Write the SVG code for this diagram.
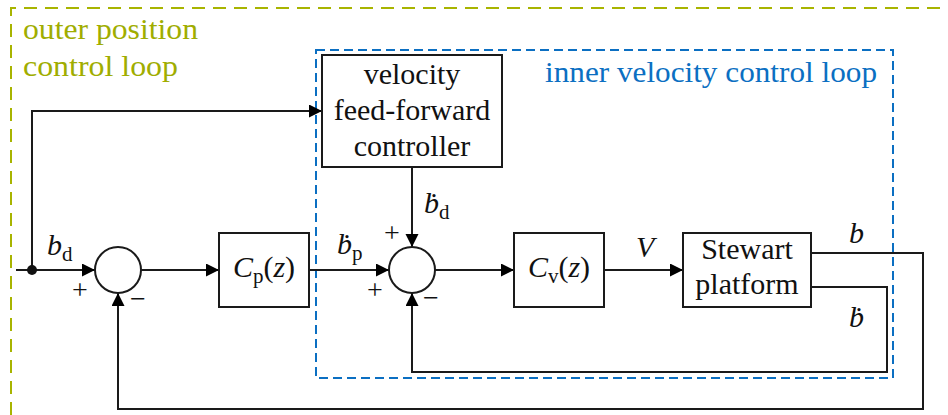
<svg xmlns="http://www.w3.org/2000/svg" width="948" height="415" viewBox="0 0 948 415" font-family="'Liberation Serif', 'DejaVu Serif', 'Times New Roman', serif">
<defs>
<marker id="arr" markerUnits="userSpaceOnUse" markerWidth="14" markerHeight="14" refX="13" refY="6.5" orient="auto">
<path d="M0,0 L13,6.5 L0,13 z" fill="#000"/>
</marker>
<style>
.box{fill:#fff;stroke:#1a1a1a;stroke-width:2}
.sum{fill:#fff;stroke:#1a1a1a;stroke-width:2}
.wire{fill:none;stroke:#1a1a1a;stroke-width:2}
.t{font-size:30px;fill:#111}
.m{font-size:30px;fill:#111}
.i{font-style:italic}
.sub{font-size:21px;font-style:normal}
.sg{font-size:28px;fill:#111;text-anchor:middle}
.outer{fill:none;stroke:#a8b400;stroke-width:2;stroke-dasharray:13,8}
.inner{fill:none;stroke:#0b6fc2;stroke-width:2;stroke-dasharray:9,5}
.ot{font-size:30px;fill:#a0ad00}
.it{font-size:30px;fill:#0b6fc2}
</style>
</defs>

<g id="outer-loop">
<path class="outer" d="M11,415 L11,8 L948,8"/>
<text class="ot" x="23" y="39" textLength="175" lengthAdjust="spacingAndGlyphs">outer position</text>
<text class="ot" x="23" y="76" textLength="155" lengthAdjust="spacingAndGlyphs">control loop</text>
</g>

<g id="inner-loop">
<rect class="inner" x="316" y="50" width="577" height="328"/>
<text class="it" x="545" y="82" textLength="332" lengthAdjust="spacingAndGlyphs">inner velocity control loop</text>
</g>

<g id="connectors">
<path class="wire" d="M16,270 L95,270" marker-end="url(#arr)"/>
<path class="wire" d="M32,270 L32,111 L322,111" marker-end="url(#arr)"/>
<circle cx="32" cy="270" r="5" fill="#111"/>
<path class="wire" d="M141,270 L219,270" marker-end="url(#arr)"/>
<path class="wire" d="M309,270 L389,270" marker-end="url(#arr)"/>
<path class="wire" d="M412,167 L412,247" marker-end="url(#arr)"/>
<path class="wire" d="M435,270 L514,270" marker-end="url(#arr)"/>
<path class="wire" d="M604,270 L683,270" marker-end="url(#arr)"/>
<path class="wire" d="M811,253 L923,253 L923,409 L118,409 L118,293" marker-end="url(#arr)"/>
<path class="wire" d="M811,287 L887,287 L887,372 L412,372 L412,293" marker-end="url(#arr)"/>
</g>

<g id="sum1">
<circle class="sum" cx="118" cy="270" r="23"/>
<text class="sg" x="80" y="299">+</text>
<text class="sg" x="138" y="308">−</text>
</g>

<g id="sum2">
<circle class="sum" cx="412" cy="270" r="23"/>
<text class="sg" x="375" y="299">+</text>
<text class="sg" x="392" y="242">+</text>
<text class="sg" x="431" y="307">−</text>
</g>

<g id="feedforward">
<rect class="box" x="322" y="55" width="180" height="112"/>
<text class="t" x="412" y="84" text-anchor="middle">velocity</text>
<text class="t" x="412" y="120" text-anchor="middle">feed-forward</text>
<text class="t" x="412" y="156" text-anchor="middle">controller</text>
</g>

<g id="Cp">
<rect class="box" x="219" y="233" width="90" height="74"/>
<text class="m" x="264" y="277" text-anchor="middle"><tspan class="i">C</tspan><tspan class="sub" dy="6">p</tspan><tspan dy="-6">(</tspan><tspan class="i">z</tspan>)</text>
</g>

<g id="Cv">
<rect class="box" x="514" y="233" width="90" height="74"/>
<text class="m" x="559" y="277" text-anchor="middle"><tspan class="i">C</tspan><tspan class="sub" dy="6">v</tspan><tspan dy="-6">(</tspan><tspan class="i">z</tspan>)</text>
</g>

<g id="stewart">
<rect class="box" x="683" y="233" width="128" height="74"/>
<text class="t" x="747" y="259" text-anchor="middle">Stewart</text>
<text class="t" x="747" y="294" text-anchor="middle">platform</text>
</g>

<g id="labels">
<text class="m" x="47" y="255"><tspan class="i">b</tspan><tspan class="sub" dy="6">d</tspan></text>
<text class="m" x="337" y="254"><tspan class="i">ḃ</tspan><tspan class="sub" dy="6">p</tspan></text>
<text class="m" x="424" y="213"><tspan class="i">ḃ</tspan><tspan class="sub" dy="6">d</tspan></text>
<text class="m i" x="636" y="257">V</text>
<text class="m i" x="849" y="243">b</text>
<text class="m i" x="849" y="327">ḃ</text>
</g>
</svg>
